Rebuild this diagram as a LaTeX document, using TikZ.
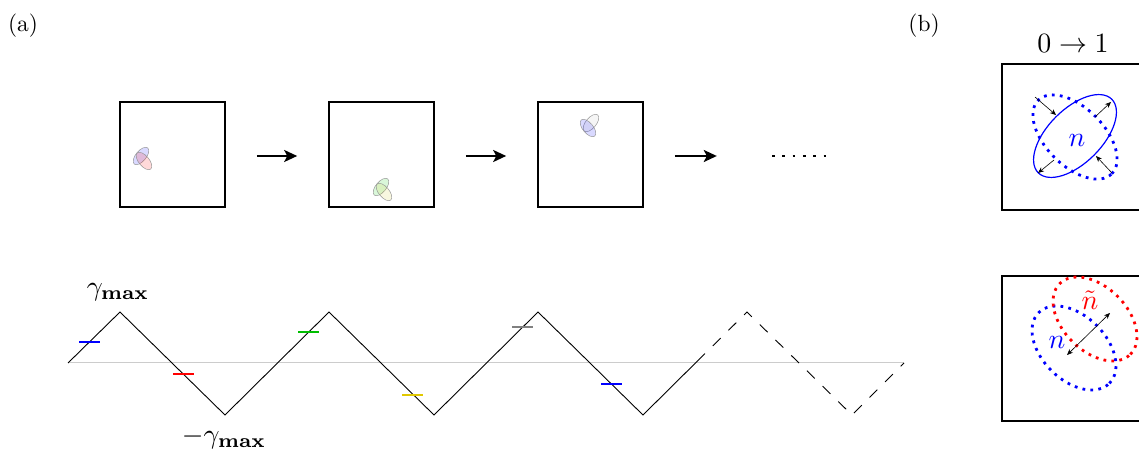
\documentclass[tikz,border=0pt]{standalone}
\usepackage{graphicx}
\usetikzlibrary{arrows.meta}
\definecolor{mkgreen}{RGB}{0,190,0}
\definecolor{mkyellow}{RGB}{225,200,0}
\newcommand{\bigtxt}[1]{\scalebox{2.8}{#1}}
\newcommand{\midtxt}[1]{\scalebox{2.35}{#1}}
\begin{document}
\begin{tikzpicture}[x=1bp,y=-1bp,
  lab/.style={inner sep=0pt},
  panel/.style={inner sep=0pt},
  boxframe/.style={draw, line width=1.6bp, minimum width=105bp, minimum height=105bp, inner sep=0pt},
  bframe/.style={draw, line width=1.6bp},
  bigarrow/.style={line width=2bp, -{Stealth[length=13bp,width=12bp,inset=3bp]}},
  blob/.style={draw=gray!85, line width=0.45bp, fill opacity=0.15},
  stateline/.style={line width=2.5bp},
  zig/.style={line width=0.9bp, line join=miter},
  dotell/.style={line width=2.8bp, dash pattern=on 2.8bp off 5.2bp},
  smallarrow/.style={line width=0.6bp, -{Stealth[length=6bp,width=5bp]}}
]
\useasboundingbox (0,0) rectangle (1139,451);

% panel labels
\node[panel] (la) at (23,26) {\midtxt{(a)}};
\node[panel] (lb) at (924,26) {\midtxt{(b)}};

% boxes of panel (a)
\node[boxframe] (b1) at (172.5,154.5) {};
\node[boxframe] (b2) at (381.5,154.5) {};
\node[boxframe] (b3) at (590.5,154.5) {};
\coordinate (d0) at (772,156);
\coordinate (d1) at (829,156);

\draw[bigarrow] ([xshift=31bp,yshift=-1.5bp]b1.east) -- ([xshift=-31bp,yshift=-1.5bp]b2.west);
\draw[bigarrow] ([xshift=31bp,yshift=-1.5bp]b2.east) -- ([xshift=-31bp,yshift=-1.5bp]b3.west);
\draw[bigarrow] ([xshift=31bp,yshift=-1.5bp]b3.east) -- ([xshift=73bp,yshift=-1.5bp]b3.east);
\draw[line width=2.8bp, dash pattern=on 2.8bp off 7.5bp] (d0) -- (d1);

% small ellipses
\draw[blob, fill=blue, shift={(141,156)}, rotate=50] (0,0) ellipse [x radius=10.5bp, y radius=5.2bp];
\draw[blob, fill=red, shift={(144,161)}, rotate=-50] (0,0) ellipse [x radius=10.5bp, y radius=5.2bp];
\draw[blob, fill=green!80!black, shift={(381,187)}, rotate=50] (0,0) ellipse [x radius=10.5bp, y radius=5.2bp];
\draw[blob, fill=yellow!80!black, shift={(384,192)}, rotate=-50] (0,0) ellipse [x radius=10.5bp, y radius=5.2bp];
\draw[blob, fill=gray!50, shift={(591,123)}, rotate=50] (0,0) ellipse [x radius=10.5bp, y radius=5.2bp];
\draw[blob, fill=blue, shift={(588,128)}, rotate=-50] (0,0) ellipse [x radius=10.5bp, y radius=5.2bp];

% zigzag
\coordinate (z0) at (68,363);
\coordinate (p1) at (120,312);
\coordinate (t1) at (225,415);
\coordinate (p2) at (329,312);
\coordinate (t2) at (434,415);
\coordinate (p3) at (538,312);
\coordinate (t3) at (643,415);
\coordinate (s) at (700,358.5);
\coordinate (p4) at (747,312);
\coordinate (t4) at (852,415);
\coordinate (z1) at (904,363);

\draw[gray!40, line width=1bp] (z0) -- (z1);
\draw[zig] (z0) -- (p1) -- (t1) -- (p2) -- (t2) -- (p3) -- (t3) -- (s);
\draw[zig, dash pattern=on 11bp off 11bp, dash phase=4bp] (s) -- (p4) -- (t4) -- (z1);

\draw[stateline, blue] (79,342) -- (100,342);
\draw[stateline, red] (173,374) -- (194,374);
\draw[stateline, mkgreen] (298,332) -- (319,332);
\draw[stateline, mkyellow] (402,395) -- (423,395);
\draw[stateline, gray] (512,327) -- (533,327);
\draw[stateline, blue] (601,384) -- (622,384);

\node[lab] (gmax) at (118,292) {\bigtxt{$\gamma_{\mathbf{max}}$}};
\node[lab] (gmin) at (224,438) {\bigtxt{$-\gamma_{\mathbf{max}}$}};

% panel (b) top
\node[lab] (title) at (1073,44) {\bigtxt{$0\to1$}};
\draw[bframe] (1002,64) rectangle (1160,210);
\draw[dotell, blue, shift={(1075,137)}, rotate=-45] (0,0) ellipse [x radius=52bp, y radius=29bp];
\draw[blue, line width=1.2bp, shift={(1075,136)}, rotate=45] (0,0) ellipse [x radius=52bp, y radius=27bp];
\node[lab, blue] (n1) at (1077,140) {\bigtxt{$n$}};
\coordinate (a1s) at (1035,97);
\coordinate (a1e) at (1056,115);
\coordinate (a2s) at (1095,117);
\coordinate (a2e) at (1111,102);
\coordinate (a3s) at (1112,173);
\coordinate (a3e) at (1096,156);
\coordinate (a4s) at (1054,160);
\coordinate (a4e) at (1038,173);
\draw[smallarrow] (a1s) -- (a1e);
\draw[smallarrow] (a2s) -- (a2e);
\draw[smallarrow] (a3s) -- (a3e);
\draw[smallarrow] (a4s) -- (a4e);

% panel (b) bottom
\draw[bframe] (1002,276) rectangle (1160,421);
\draw[dotell, blue, shift={(1074,348)}, rotate=-45] (0,0) ellipse [x radius=50bp, y radius=32bp];
\draw[dotell, red, shift={(1095,319)}, rotate=-45] (0,0) ellipse [x radius=50bp, y radius=32bp];
\coordinate (m0) at (1067,355);
\coordinate (m1) at (1110,313);
\draw[line width=0.6bp, {Stealth[length=6bp,width=5bp]}-{Stealth[length=6bp,width=5bp]}] (m0) -- (m1);
\node[lab, red] (nt) at (1090,300) {\bigtxt{$\tilde n$}};
\node[lab, blue] (n2) at (1057,342) {\bigtxt{$n$}};
\end{tikzpicture}
\end{document}
